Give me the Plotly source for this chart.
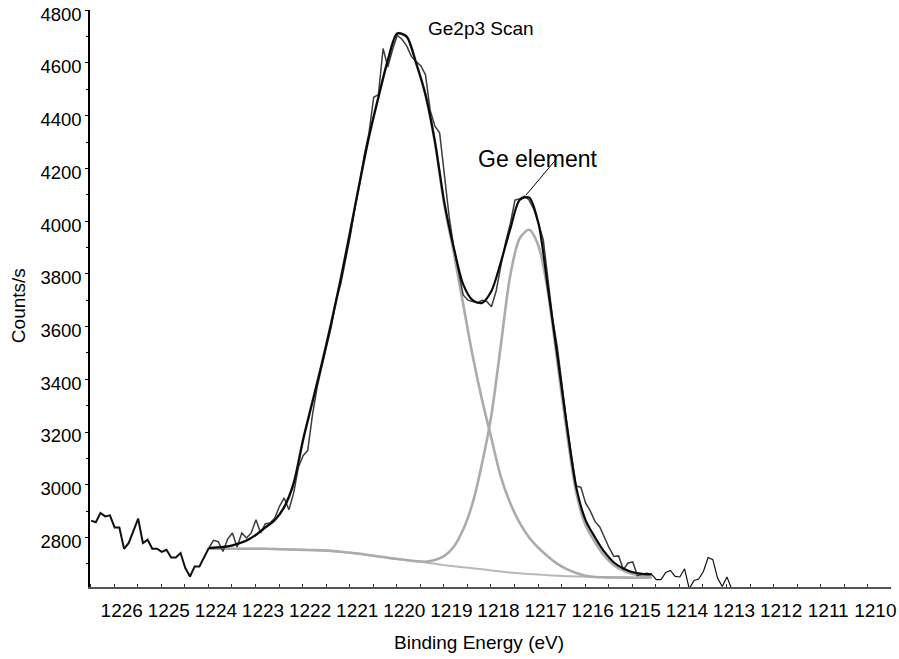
import numpy as np
import plotly.graph_objects as go

# ---------------- data ----------------
# Raw Ge2p3 spectrum: binding energy grid starts at 1226.65 eV, step 0.1 eV (decreasing)
raw_start = 1226.65
raw_step = 0.1
raw_counts = [
    2864, 2858, 2893, 2880, 2884, 2838, 2838, 2757, 2779, 2829,
    2871, 2779, 2791, 2757, 2757, 2745, 2753, 2724, 2724, 2741,
    2684, 2652, 2690, 2690, 2728, 2760, 2789, 2784, 2747, 2794,
    2817, 2764, 2817, 2798, 2817, 2867, 2817, 2852, 2855, 2874,
    2918, 2950, 2905, 2968, 3065, 3110, 3130, 3265, 3370, 3450,
    3520, 3600, 3700, 3760, 3850, 3940, 4050, 4140, 4250, 4335,
    4470, 4480, 4655, 4585, 4650, 4705, 4690, 4665, 4625, 4605,
    4590, 4555, 4420, 4360, 4335, 4180, 4020, 3900, 3810, 3720,
    3700, 3695, 3690, 3700, 3695, 3675, 3735, 3830, 3920, 3990,
    4080, 4085, 4095, 4080, 4045, 3990, 3930, 3780, 3630, 3520,
    3370, 3235, 3110, 2995, 2990, 2930, 2900, 2860, 2840, 2800,
    2760, 2728, 2730, 2678, 2703, 2707, 2655, 2660, 2665, 2660,
    2640, 2640, 2667, 2675, 2652, 2650, 2681, 2605, 2637, 2642,
    2671, 2724, 2716, 2646, 2614, 2650, 2605,
]
raw_energy = np.round(raw_start - raw_step * np.arange(len(raw_counts)), 2)

# Fitted curves: grid starts at 1224.15 eV, step 0.2 eV (decreasing)
fit_start = 1224.15
fit_step = 0.2
envelope = [
    2760, 2762, 2766, 2775, 2788, 2810, 2838, 2866, 2915, 3005,
    3170, 3315, 3460, 3615, 3780, 3960, 4145, 4320, 4470, 4610,
    4712, 4700, 4600, 4480, 4302, 4070, 3900, 3760, 3700, 3690,
    3735, 3845, 3970, 4080, 4090, 3990, 3745, 3490, 3225, 2990,
    2865, 2800, 2745, 2705, 2682, 2668, 2662, 2660,
]
comp_main = [
    2760, 2762, 2766, 2775, 2788, 2810, 2838, 2866, 2915, 3005,
    3170, 3315, 3460, 3615, 3780, 3960, 4145, 4320, 4470, 4610,
    4712, 4700, 4600, 4478, 4298, 4060, 3880, 3685, 3490, 3322,
    3175, 3030, 2930, 2855, 2800, 2760, 2728, 2700, 2680, 2665,
    2655, 2650, 2649, 2648, 2648, 2647, 2647, 2647,
]
comp_ge_element = [
    2757, 2757, 2757, 2757, 2757, 2757, 2757, 2756, 2755, 2754,
    2753, 2752, 2751, 2749, 2746, 2742, 2738, 2733, 2728, 2723,
    2718, 2714, 2710, 2708, 2714, 2730, 2765, 2830, 2930, 3080,
    3265, 3530, 3795, 3935, 3967, 3905, 3730, 3465, 3200, 2970,
    2845, 2782, 2730, 2695, 2674, 2661, 2655, 2651,
]
background = [
    2757, 2757, 2757, 2757, 2757, 2757, 2757, 2756, 2755, 2754,
    2753, 2752, 2751, 2749, 2746, 2742, 2738, 2733, 2728, 2723,
    2718, 2714, 2710, 2705, 2700, 2695, 2691, 2687, 2683, 2679,
    2675, 2671, 2667, 2664, 2661, 2659, 2657, 2655, 2653, 2652,
    2651, 2650, 2649, 2648, 2648, 2647, 2647, 2647,
]
fit_energy = np.round(fit_start - fit_step * np.arange(len(envelope)), 2)

# Annotation anchor: the Ge element peak of the envelope
ge_peak = (1217.42, 4098)

x_range = [1226.673, 1209.667]
y_range = [2612, 4801]

FONT = "Liberation Sans, Arial, sans-serif"

fig = go.Figure()

# background and components (grey)
fig.add_trace(go.Scatter(x=fit_energy, y=background, mode="lines",
                         line=dict(color="#b8b8b8", width=2, shape="spline", smoothing=0.6),
                         hoverinfo="skip", showlegend=False))
fig.add_trace(go.Scatter(x=fit_energy, y=comp_main, mode="lines",
                         line=dict(color="#ababab", width=2.6, shape="spline", smoothing=0.8),
                         showlegend=False))
fig.add_trace(go.Scatter(x=fit_energy, y=comp_ge_element, mode="lines",
                         line=dict(color="#ababab", width=2.6, shape="spline", smoothing=0.8),
                         showlegend=False))

# raw data: outside / inside fit region
fig.add_trace(go.Scatter(x=raw_energy[:26], y=raw_counts[:26], mode="lines",
                         line=dict(color="#111111", width=2), showlegend=False))
fig.add_trace(go.Scatter(x=raw_energy[25:118], y=raw_counts[25:118], mode="lines",
                         line=dict(color="#3c3c3c", width=1.5), showlegend=False))
fig.add_trace(go.Scatter(x=raw_energy[117:], y=raw_counts[117:], mode="lines",
                         line=dict(color="#111111", width=1.2), showlegend=False))

# envelope
fig.add_trace(go.Scatter(x=fit_energy, y=envelope, mode="lines",
                         line=dict(color="#0a0a0a", width=2.2, shape="spline", smoothing=0.8),
                         showlegend=False))

fig.update_layout(
    width=899, height=659,
    margin=dict(l=90, r=8, t=10, b=72, autoexpand=False),
    paper_bgcolor="white", plot_bgcolor="white",
    font=dict(family=FONT, color="black", size=18),
    showlegend=False,
    xaxis=dict(
        range=x_range, tickmode="linear", tick0=1210, dtick=1,
        automargin=False,
        ticks="", showgrid=False, zeroline=False,
        showline=True, linecolor="#555555", linewidth=1.5,
        tickfont=dict(size=19, family=FONT, color="black"),
        ticklabelstandoff=5,
        minor=dict(ticks="inside", ticklen=3, tickmode="linear", tick0=1210.16, dtick=0.5,
                   tickcolor="#333333", tickwidth=1, showgrid=False),
    ),
    yaxis=dict(
        range=y_range, tickmode="linear", tick0=0, dtick=200,
        automargin=False,
        ticks="outside", ticklen=3, tickcolor="black", tickwidth=1,
        showgrid=False, zeroline=False,
        showline=True, linecolor="black", linewidth=1.5,
        tickfont=dict(size=18.5, family=FONT, color="black"),
        ticklabelshift=4,
        minor=dict(ticks="outside", ticklen=2, tickmode="linear", tick0=0, dtick=100,
                   tickcolor="black", showgrid=False),
    ),
    annotations=[
        dict(text="Ge2p3 Scan", xref="paper", yref="paper", x=0.420, y=0.9685,
             xanchor="left", yanchor="middle", showarrow=False,
             font=dict(size=19, family=FONT, color="black")),
        dict(text="Ge element", xref="paper", yref="paper", x=0.4825, y=0.7423,
             xanchor="left", yanchor="middle", showarrow=False,
             font=dict(size=23, family=FONT, color="black")),
        dict(text="", x=ge_peak[0], y=ge_peak[1], xref="x", yref="y",
             showarrow=True, arrowhead=0, arrowwidth=1, arrowcolor="black",
             ax=32, ay=-38, standoff=0),
        dict(text="Binding Energy (eV)", xref="paper", yref="paper", x=0.486, y=-0.0966,
             xanchor="center", yanchor="middle", showarrow=False,
             font=dict(size=19, family=FONT, color="black")),
        dict(text="Counts/s", xref="paper", yref="paper", x=-0.0893, y=0.4876,
             xanchor="center", yanchor="middle", showarrow=False, textangle=-90,
             font=dict(size=19, family=FONT, color="black")),
    ],
)

fig.write_html("out.html")
